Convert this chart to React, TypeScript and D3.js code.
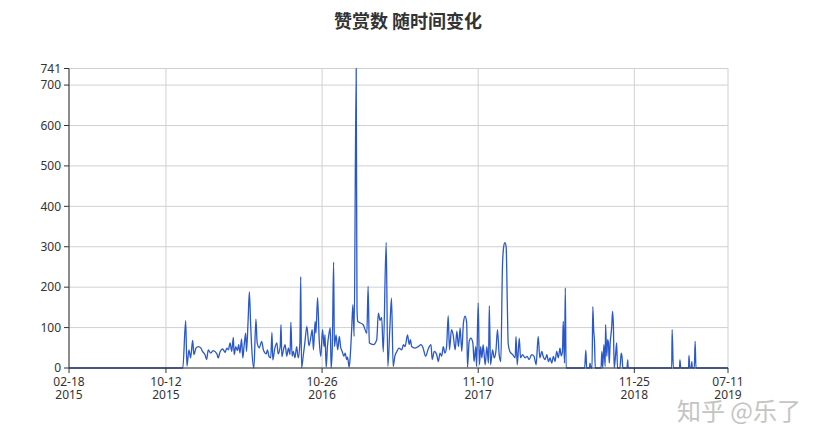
import React from 'react';
import * as d3 from 'd3';

const titleText = '赞赏数 随时间变化';
const watermarkText = '知乎 @乐了';
const startDate = '2015-02-18';
const endDate = '2019-07-11';
const xTickDates = ['2015-02-18', '2015-10-12', '2016-10-26', '2017-11-10', '2018-11-25', '2019-07-11'];
const yTicks = [0, 100, 200, 300, 400, 500, 600, 700, 741];
const yMax = 741;

// days since 2015-02-18
const dayIndex = [
  0, 277, 284, 287, 292, 296, 301, 304, 309, 315,
  321, 325, 331, 335, 339, 345, 351, 360, 363, 368,
  374, 380, 384, 388, 392, 396, 400, 402, 406, 410,
  413, 416, 420, 423, 426, 430, 432, 436, 439, 442,
  445, 450, 455, 458, 463, 469, 473, 480, 483, 487,
  491, 494, 496, 501, 506, 509, 514, 516, 518, 522,
  526, 530, 534, 538, 540, 543, 546, 550, 554, 558,
  562, 564, 566, 570, 574, 579, 584, 589, 592, 595,
  599, 601, 605, 609, 613, 617, 621, 623, 626, 629,
  633, 636, 638, 641, 644, 646, 650, 654, 658, 661,
  665, 669, 672, 676, 678, 682, 685, 688, 691, 694,
  699, 701, 703, 708, 716, 725, 728, 731, 741, 749,
  753, 757, 761, 765, 772, 776, 781, 785, 789, 793,
  798, 803, 810, 814, 818, 824, 828, 831, 834, 842,
  850, 857, 862, 868, 875, 881, 884, 889, 895, 899,
  903, 907, 911, 915, 919, 923, 926, 931, 935, 940,
  944, 948, 952, 956, 960, 964, 968, 970, 974, 978,
  983, 986, 990, 992, 996, 999, 1002, 1005, 1008, 1013,
  1017, 1021, 1023, 1026, 1031, 1035, 1039, 1043, 1047, 1051,
  1055, 1058, 1061, 1064, 1067, 1069, 1073, 1080, 1086, 1088,
  1091, 1096, 1099, 1104, 1110, 1115, 1120, 1126, 1132, 1137,
  1142, 1146, 1151, 1154, 1159, 1163, 1167, 1171, 1175, 1179,
  1183, 1187, 1191, 1195, 1198, 1201, 1203, 1206, 1208, 1210,
  1255, 1258, 1260, 1267, 1268, 1271, 1273, 1275, 1277, 1279,
  1281, 1295, 1297, 1299, 1302, 1305, 1306, 1309, 1311, 1313,
  1315, 1317, 1321, 1323, 1325, 1327, 1331, 1333, 1335, 1341,
  1344, 1346, 1348, 1358, 1360, 1361, 1467, 1468, 1471, 1486,
  1487, 1489, 1508, 1509, 1511, 1514, 1516, 1517, 1522, 1524,
  1526, 1604,
];

const rewards = [
  0, 0, 117, 5, 45, 25, 68, 33, 49, 53,
  49, 41, 33, 21, 45, 37, 43, 35, 25, 41,
  47, 39, 49, 45, 62, 41, 76, 33, 53, 43,
  58, 37, 72, 25, 53, 86, 41, 119, 188, 111,
  45, 0, 121, 62, 50, 66, 45, 35, 45, 28,
  25, 88, 20, 49, 62, 35, 53, 107, 28, 45,
  58, 29, 49, 33, 113, 29, 41, 25, 53, 25,
  62, 226, 0, 29, 62, 103, 55, 78, 95, 45,
  115, 86, 174, 70, 29, 95, 53, 82, 2, 53,
  86, 99, 0, 53, 262, 53, 82, 45, 78, 53,
  41, 29, 37, 21, 27, 2, 37, 95, 157, 78,
  741, 144, 115, 112, 107, 86, 202, 62, 58, 70,
  136, 118, 125, 40, 311, 4, 100, 173, 4, 29,
  41, 49, 45, 58, 53, 82, 58, 70, 53, 49,
  53, 58, 49, 29, 49, 58, 21, 41, 33, 16,
  37, 29, 53, 37, 53, 129, 45, 95, 82, 45,
  91, 53, 99, 41, 111, 128, 111, 2, 66, 74,
  62, 16, 53, 4, 161, 8, 53, 25, 58, 8,
  53, 12, 154, 8, 45, 25, 41, 95, 33, 16,
  250, 300, 310, 300, 150, 60, 41, 33, 25, 78,
  8, 74, 25, 33, 25, 29, 21, 33, 29, 8,
  78, 25, 41, 29, 21, 33, 16, 25, 12, 29,
  16, 41, 25, 49, 30, 40, 115, 12, 198, 0,
  0, 44, 0, 0, 12, 0, 0, 152, 95, 66,
  0, 0, 41, 0, 58, 4, 107, 29, 70, 62,
  12, 58, 103, 140, 107, 0, 41, 62, 0, 0,
  37, 29, 0, 0, 20, 0, 0, 95, 0, 0,
  20, 0, 0, 31, 0, 0, 16, 0, 0, 66,
  0, 0,
];

const W = 825;
const H = 442;
const M = { left: 69, right: 97, top: 68.5, bottom: 74 };

export default function App() {
  const parse = d3.utcParse('%Y-%m-%d');
  const t0 = parse(startDate) as Date;
  const t1 = parse(endDate) as Date;
  const x = d3.scaleUtc().domain([t0, t1]).range([M.left, W - M.right]);
  const y = d3.scaleLinear().domain([0, yMax]).range([H - M.bottom, M.top]);
  const data = dayIndex.map((d, i) => ({ date: d3.utcDay.offset(t0, d), v: rewards[i] }));
  const line = d3
    .line<{ date: Date; v: number }>()
    .x((d) => x(d.date))
    .y((d) => y(d.v))
    .curve(d3.curveMonotoneX);
  const fmtMD = d3.utcFormat('%m-%d');
  const fmtY = d3.utcFormat('%Y');
  const xTicks = xTickDates.map((s) => parse(s) as Date);
  const x0 = M.left;
  const x1 = W - M.right;
  const y0 = H - M.bottom;
  const font = "'Noto Sans', 'DejaVu Sans', sans-serif";

  return (
    <svg
      width={W}
      height={H}
      style={{ position: 'absolute', left: 0, top: 0, background: '#fff' }}
    >
      <rect x={0} y={0} width={W} height={H} fill="#fff" />
      <text
        x={408}
        y={28}
        textAnchor="middle"
        fontFamily="'Noto Sans CJK SC', sans-serif"
        fontWeight="bold"
        fontSize={18}
        fill="#333"
      >
        {titleText}
      </text>
      {/* grid */}
      {yTicks.map((t) => (
        <line key={'gy' + t} x1={x0} x2={x1} y1={y(t)} y2={y(t)} stroke="#d0d0d0" strokeWidth={1} />
      ))}
      {xTicks.map((t, i) => (
        <line key={'gx' + i} x1={x(t)} x2={x(t)} y1={y(yMax)} y2={y0} stroke="#d0d0d0" strokeWidth={1} />
      ))}
      {/* data line */}
      <path d={line(data) || ''} fill="none" stroke="#2a58c9" strokeWidth={1.3} strokeLinejoin="round" />
      {/* axes */}
      <line x1={x0} x2={x0} y1={y(yMax)} y2={y0} stroke="#333" strokeWidth={1} />
      <line x1={x0} x2={x1} y1={y0} y2={y0} stroke="#333" strokeWidth={1} />
      {yTicks.map((t) => (
        <g key={'ty' + t}>
          <line x1={x0 - 5} x2={x0} y1={y(t)} y2={y(t)} stroke="#333" />
          <text
            x={x0 - 8}
            y={y(t)}
            dy="0.35em"
            textAnchor="end"
            fontFamily={font}
            fontSize={12}
            fill="#333"
          >
            {t}
          </text>
        </g>
      ))}
      {xTicks.map((t, i) => (
        <g key={'tx' + i}>
          <line x1={x(t)} x2={x(t)} y1={y0} y2={y0 + 5} stroke="#333" />
          <text x={x(t)} y={386} textAnchor="middle" fontFamily={font} fontSize={12} fill="#333">
            <tspan x={x(t)}>{fmtMD(t)}</tspan>
            <tspan x={x(t)} dy={12.5}>{fmtY(t)}</tspan>
          </text>
        </g>
      ))}
      <text
        x={739}
        y={420}
        textAnchor="middle"
        fontFamily="'Noto Sans CJK SC', sans-serif"
        fontSize={24}
        fill="#c4c4c4"
      >
        {watermarkText}
      </text>
    </svg>
  );
}
